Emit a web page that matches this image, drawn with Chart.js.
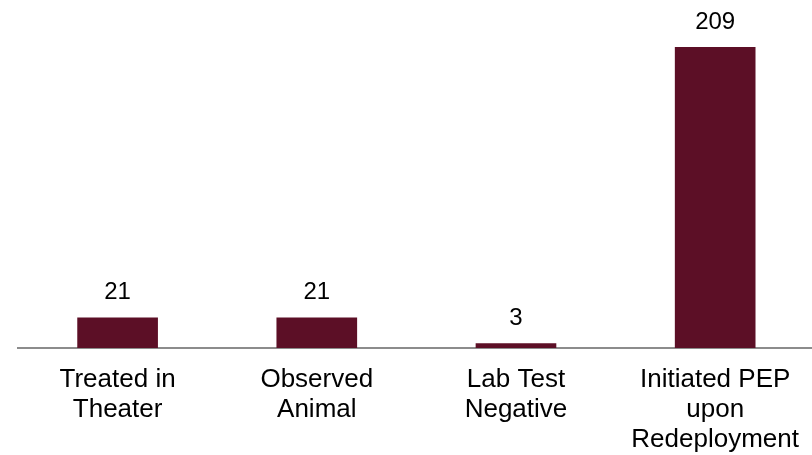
<!DOCTYPE html>
<html><head><meta charset="utf-8">
<script src="https://cdn.jsdelivr.net/npm/chart.js@4/dist/chart.umd.min.js"></script>
<style>html,body{margin:0;padding:0;background:#fff;overflow:hidden;}#wrap{width:812px;height:455px;overflow:hidden;}</style>
</head><body><div id="wrap"><canvas id="c" width="816" height="455"></canvas></div>
<script>
const categories = [["Treated in","Theater"],["Observed","Animal"],["Lab Test","Negative"],["Initiated PEP","upon","Redeployment"]];
const values = [21, 21, 3, 209];

const valueLabels = {
  id: 'valueLabels',
  afterDatasetsDraw(chart) {
    const ctx = chart.ctx;
    const meta = chart.getDatasetMeta(0);
    ctx.save();
    ctx.font = '24px "Liberation Sans", Arial, sans-serif';
    ctx.fillStyle = '#000';
    ctx.textAlign = 'center';
    ctx.textBaseline = 'middle';
    meta.data.forEach((bar, i) => {
      ctx.fillText(String(values[i]), bar.x, bar.y - 25);
    });
    ctx.restore();
  }
};

new Chart(document.getElementById('c'), {
  type: 'bar',
  data: {
    labels: categories,
    datasets: [{ data: values, backgroundColor: '#5C0F26', barThickness: 80 }]
  },
  options: {
    responsive: false,
    animation: false,
    devicePixelRatio: 1,
    layout: { padding: { left: 18, right: 0, top: 0, bottom: 0 } },
    plugins: { legend: { display: false }, tooltip: { enabled: false } },
    scales: {
      x: {
        grid: { display: false, drawTicks: false },
        border: { display: true, color: '#8c8c8c', width: 2 },
        ticks: { color: '#000', font: { family: '"Liberation Sans", Arial, sans-serif', size: 26, lineHeight: 1.154 }, padding: 17, maxRotation: 0, autoSkip: false },
        afterFit(scale) { scale.height = 107; }
      },
      y: { display: false, min: 0, max: 242 }
    }
  },
  plugins: [valueLabels]
});
</script></body></html>
